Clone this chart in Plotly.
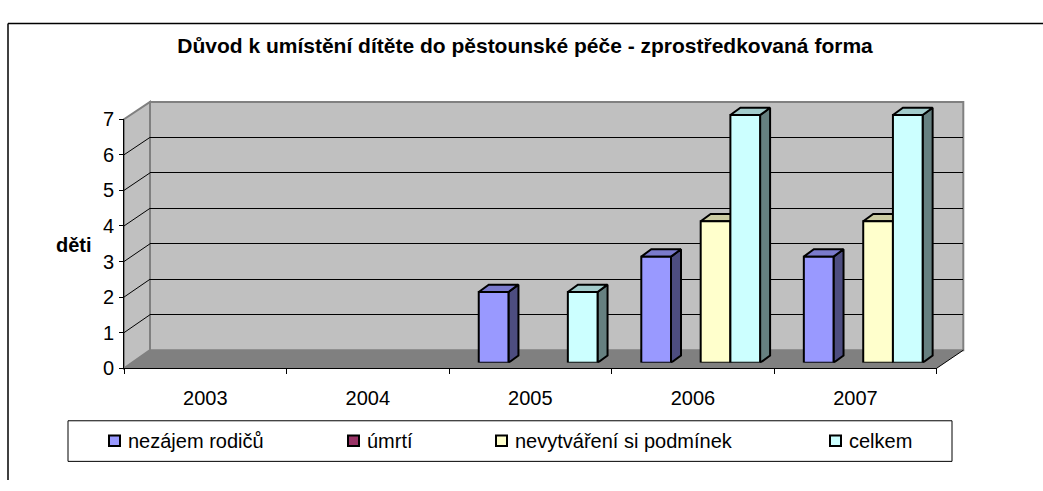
import plotly.graph_objects as go

# ---------------- data ----------------
years = ["2003", "2004", "2005", "2006", "2007"]
series_names = ["nezájem rodičů", "úmrtí", "nevytváření si podmínek", "celkem"]
nezajem_rodicu = [0, 0, 2, 3, 3]
umrti = [0, 0, 0, 0, 0]
nevytvareni = [0, 0, 0, 4, 4]
celkem = [0, 0, 2, 7, 7]
y_tick_values = [0, 1, 2, 3, 4, 5, 6, 7]
chart_title = "Důvod k umístění dítěte do pěstounské péče - zprostředkovaná forma"
y_title = "děti"

series_values = [nezajem_rodicu, umrti, nevytvareni, celkem]
front_colors = ["#9999FF", "#993366", "#FFFFCC", "#CCFFFF"]
top_colors = ["#7A7ACC", "#7A2952", "#CCCCA3", "#A3CCCC"]
side_colors = ["#4D4D80", "#4D1A33", "#808066", "#668080"]

# ---------------- geometry (pixels) ----------------
W, H = 1043, 491
FONT = "Liberation Sans, Arial, sans-serif"


def X(px):
    return px / W


def Y(py):
    return 1 - py / H


FX0, FX1 = 124.0, 936.7      # front floor edge
FY0, FY7 = 374.0, 113.3      # front axis 0 and 7
BX0, BX1 = 150.0, 963.3      # back wall
BY0, BY7 = 355.1, 95.2
BAR_X0, BAR_X1 = 131.8, 944.5
BAR_Y0 = 368.3
UNIT = 37.05
BAR_YMAX = 8
n_cat = len(years)
cat_px = (BAR_X1 - BAR_X0) / n_cat
bar_w = 29.7 / cat_px
depth_x = 10.0 / cat_px
depth_y = 7.7 / UNIT

fig = go.Figure()

# empty traces so that the wall-grid and front-axis subplots are created
fig.add_trace(go.Scatter(x=[None], y=[None], xaxis="x", yaxis="y", showlegend=False, hoverinfo="skip"))
fig.add_trace(go.Scatter(x=[None], y=[None], xaxis="x2", yaxis="y2", showlegend=False, hoverinfo="skip"))

# ---------------- 3D bars ----------------
for s, vals in enumerate(series_values):
    off = (s - len(series_values) / 2) * bar_w
    sx, sy, tx, ty, fx, fy = [], [], [], [], [], []
    for i, v in enumerate(vals):
        if not v:
            continue
        x0 = i + off
        x1 = x0 + bar_w
        sx += [x1, x1 + depth_x, x1 + depth_x, x1, x1, None]
        sy += [0, depth_y, v + depth_y, v, 0, None]
        tx += [x0, x1, x1 + depth_x, x0 + depth_x, x0, None]
        ty += [v, v, v + depth_y, v + depth_y, v, None]
        fx += [x0, x1, x1, x0, x0, None]
        fy += [0, 0, v, v, 0, None]
    if not fx:
        continue
    for xs, ys, col in ((sx, sy, side_colors[s]), (tx, ty, top_colors[s]), (fx, fy, front_colors[s])):
        fig.add_trace(go.Scatter(
            x=xs, y=ys, mode="lines", fill="toself", fillcolor=col,
            line=dict(color="black", width=2), xaxis="x3", yaxis="y3",
            name=series_names[s], showlegend=False, hoverinfo="skip"))

# ---------------- axes ----------------
fig.update_layout(
    width=W, height=H, autosize=False,
    margin=dict(l=0, r=0, t=0, b=0),
    paper_bgcolor="white", plot_bgcolor="rgba(0,0,0,0)",
    showlegend=False,
    # back wall grid
    xaxis=dict(domain=[X(BX0), X(BX1)], range=[0, 1], anchor="y",
               showgrid=False, zeroline=False, showticklabels=False, ticks="", showline=False),
    yaxis=dict(domain=[Y(BY0), Y(BY7)], range=[0, 7], anchor="x",
               tickvals=y_tick_values[1:-1], showgrid=True, gridcolor="black", gridwidth=1,
               zeroline=False, showticklabels=False, ticks="", showline=False),
    # front axes
    xaxis2=dict(domain=[X(FX0), X(FX1)], range=[-0.5, n_cat - 0.5], anchor="y2",
                tickvals=list(range(n_cat)), ticktext=years, ticks="",
                minor=dict(tickvals=[i - 0.5 for i in range(n_cat + 1)], ticks="outside",
                           ticklen=5, tickcolor="black", tickwidth=1, showgrid=False),
                showline=True, linecolor="black", linewidth=1, showgrid=False, zeroline=False,
                ticklabelstandoff=12,
                tickfont=dict(family=FONT, size=20, color="black")),
    yaxis2=dict(domain=[Y(FY0), Y(FY7)], range=[0, 7], anchor="x2",
                tickvals=y_tick_values, ticks="outside", ticklen=4, tickcolor="black",
                showline=True, linecolor="black", linewidth=1, showgrid=False, zeroline=False,
                ticklabelstandoff=1,
                tickfont=dict(family=FONT, size=20, color="black")),
    # bars
    xaxis3=dict(domain=[X(BAR_X0), X(BAR_X1)], range=[-0.5, n_cat - 0.5], anchor="y3",
                visible=False),
    yaxis3=dict(domain=[Y(BAR_Y0), Y(BAR_Y0 - BAR_YMAX * UNIT)], range=[0, BAR_YMAX], anchor="x3",
                visible=False),
    title=dict(text="<b>" + chart_title + "</b>", x=X(525), xanchor="center",
               y=Y(45.7), yanchor="middle",
               font=dict(family=FONT, size=21, color="black")),
)

# ---------------- walls / floor (decoration) ----------------
shapes = []
# outer chart frame (only top and left edges are inside the picture)
shapes.append(dict(type="line", xref="paper", yref="paper", x0=X(8), y0=Y(13), x1=1.0, y1=Y(13),
                   line=dict(color="black", width=1.5), layer="below"))
shapes.append(dict(type="line", xref="paper", yref="paper", x0=X(8), y0=Y(13), x1=X(8), y1=0.0,
                   line=dict(color="black", width=1.5), layer="below"))


def path(pts):
    return "M " + " L ".join(f"{X(a):.5f},{Y(b):.5f}" for a, b in pts) + " Z"


# left side wall
shapes.append(dict(type="path", xref="paper", yref="paper",
                   path=path([(FX0, FY0), (FX0, FY7), (BX0, BY7), (BX0, BY0)]),
                   fillcolor="#C0C0C0", line=dict(color="#808080", width=2), layer="below"))
# back wall
shapes.append(dict(type="rect", xref="paper", yref="paper", x0=X(BX0), x1=X(BX1), y0=Y(BY0), y1=Y(BY7),
                   fillcolor="#C0C0C0", line=dict(color="#808080", width=2), layer="below"))
# floor
shapes.append(dict(type="path", xref="paper", yref="paper",
                   path=path([(FX0, FY0), (FX1, FY0), (BX1, BY0), (BX0, BY0)]),
                   fillcolor="#808080", line=dict(width=0), layer="below"))
shapes.append(dict(type="line", xref="paper", yref="paper", x0=X(FX1), y0=Y(FY0), x1=X(BX1), y1=Y(BY0),
                   line=dict(color="black", width=1), layer="below"))
# side wall grid lines
for v in y_tick_values[1:-1]:
    yf = FY0 + (FY7 - FY0) * v / 7
    yb = BY0 + (BY7 - BY0) * v / 7
    shapes.append(dict(type="line", xref="paper", yref="paper", x0=X(FX0), y0=Y(yf), x1=X(BX0), y1=Y(yb),
                       line=dict(color="black", width=1), layer="below"))

# ---------------- legend (manual, Excel style) ----------------
LEG_X0, LEG_X1, LEG_Y0, LEG_Y1 = 68, 952, 429, 471.5
shapes.append(dict(type="rect", xref="paper", yref="paper", x0=X(LEG_X0), x1=X(LEG_X1), y0=Y(LEG_Y1), y1=Y(LEG_Y0),
                   line=dict(color="black", width=1), fillcolor="white", layer="below"))
legend_square_px = [108, 347, 495, 829]
annotations = []
for name, col, sq in zip(series_names, front_colors, legend_square_px):
    shapes.append(dict(type="rect", xref="paper", yref="paper", x0=X(sq + 1), x1=X(sq + 12),
                       y0=Y(455.5), y1=Y(444.5),
                       fillcolor=col, line=dict(color="black", width=2), layer="above"))
    annotations.append(dict(text=name, xref="paper", yref="paper", x=X(sq + 18), y=Y(450.5),
                            xanchor="left", yanchor="middle", showarrow=False,
                            font=dict(family=FONT, size=20, color="black")))

annotations.append(dict(text="<b>" + y_title + "</b>", xref="paper", yref="paper", x=X(73.5), y=Y(245),
                        xanchor="center", yanchor="middle", showarrow=False,
                        font=dict(family=FONT, size=20, color="black")))

fig.update_layout(shapes=shapes, annotations=annotations)
fig.write_html("out.html", config={"displayModeBar": False},
               post_script="document.body.style.margin='0px';")
